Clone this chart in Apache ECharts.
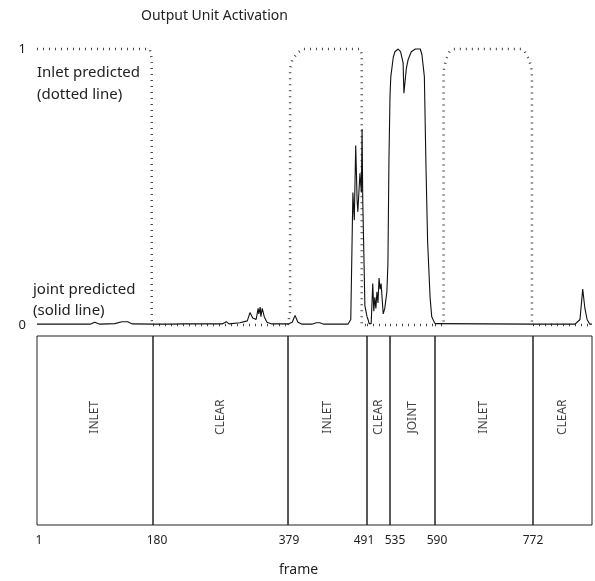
<!DOCTYPE html>
<html>
<head>
<meta charset="utf-8">
<script src="https://cdn.jsdelivr.net/npm/echarts@6/dist/echarts.min.js"></script>
<style>
  html, body { margin: 0; padding: 0; background: #fff; }
  #chart { width: 595px; height: 581px; }
</style>
</head>
<body>
<div id="chart"></div>
<script>
// segments of the sequence (frame ranges) and their labels
const segStarts = [1, 180, 379, 491, 535, 590, 772];
const segEnds = [180, 379, 491, 535, 590, 772, 880];
const segNames = ['INLET', 'CLEAR', 'INLET', 'CLEAR', 'JOINT', 'INLET', 'CLEAR'];
const tickLabels = ['1', '180', '379', '491', '535', '590', '772'];
const yTicks = ['0', '1'];

// inlet unit (dotted line)
const inletFrames = [1, 175, 177, 178, 178, 179, 180,
    379, 382, 382, 385, 392, 400, 482, 483.5, 483.5, 491,
    535, 590, 606, 606, 610, 617, 625, 750, 757, 765, 769, 770, 770, 772, 880];
const inletValues = [1, 1, 0.98, 0.95, 0.02, 0, 0,
    0, 0.05, 0.93, 0.96, 0.985, 1, 1, 0.98, 0, 0,
    0, 0, 0, 0.92, 0.96, 0.99, 1, 1, 0.99, 0.96, 0.93, 0.9, 0, 0, 0];

// joint unit (solid line)
const jointFrames = [1, 83, 90, 98, 121, 132, 141, 148, 180,
    205, 227, 282, 288, 292, 308, 319, 323, 327, 332, 335, 336, 338, 339, 341, 344, 348, 355, 379,
    385, 389, 393, 399, 413, 419, 424, 430, 464, 468, 471, 473, 475, 477, 478, 481, 483, 484, 485, 487, 488, 491,
    493, 495, 499, 502, 504, 506, 508, 510, 512, 514, 516, 518, 522, 525, 529, 531, 533, 535,
    536, 539, 541, 545, 548, 551, 552, 555, 557, 561, 566, 572, 574, 577, 579, 581, 584, 586, 590,
    772, 849, 858, 863, 867, 871, 876, 880];
const jointValues = [0.003, 0.003, 0.01, 0.003, 0.005, 0.012, 0.012, 0.004, 0.003,
    0.003, 0.004, 0.004, 0.012, 0.004, 0.008, 0.015, 0.045, 0.025, 0.02, 0.06, 0.04, 0.065, 0.03, 0.06, 0.03, 0.01, 0.004, 0.004,
    0.01, 0.035, 0.01, 0.003, 0.003, 0.008, 0.008, 0.003, 0.003, 0.02, 0.48, 0.38, 0.65, 0.45, 0.41, 0.55, 0.48, 0.71, 0.45, 0.2, 0.07, 0.03,
    0.02, 0.005, 0.005, 0.15, 0.05, 0.1, 0.06, 0.12, 0.08, 0.17, 0.13, 0.15, 0.04, 0.06, 0.12, 0.22, 0.6, 0.83,
    0.9, 0.97, 0.99, 1, 0.99, 0.95, 0.84, 0.93, 0.96, 0.99, 1, 1, 0.98, 0.9, 0.57, 0.3, 0.1, 0.03, 0.005,
    0.003, 0.003, 0.02, 0.13, 0.06, 0.02, 0.003, 0.003];

// layout: pixel edges of the segments (drawing was not to scale)
const edgePx = [37, 153, 288, 367, 390, 435, 533, 592];
const labelShift = [2, 4, 1, -3, 5, 2, 0];
const TOP = 49, TOP_H = 276, BOX_TOP = 336, BOX_H = 189;
const FONT = 'Noto Sans';

function pick(frames, values, lo, hi) {
    const out = [];
    frames.forEach((f, k) => {
        if (f >= lo && f <= hi) out.push([f, values[k]]);
    });
    return out;
}

const grid = [], xAxis = [], yAxis = [], series = [];
const n = segStarts.length;

for (let i = 0; i < n; i++) {
    const left = edgePx[i], width = edgePx[i + 1] - edgePx[i];
    // upper panel: activations
    grid.push({left: left, top: TOP, width: width, height: TOP_H});
    xAxis.push({type: 'value', gridIndex: i, min: segStarts[i], max: segEnds[i], show: false});
    yAxis.push({
        type: 'value', gridIndex: i, min: 0, max: 1, interval: 1,
        show: i === 0,
        axisLine: {show: false}, axisTick: {show: false}, splitLine: {show: false},
        axisLabel: {
            margin: 11, color: '#222', fontSize: 13, fontFamily: FONT,
            formatter: v => yTicks[v]
        }
    });
    series.push({
        type: 'line', xAxisIndex: i, yAxisIndex: i, symbol: 'none', clip: false,
        data: pick(inletFrames, inletValues, segStarts[i], segEnds[i]),
        lineStyle: {color: '#444', width: 2.5, type: [1, 5], cap: 'butt'}
    });
    series.push({
        type: 'line', xAxisIndex: i, yAxisIndex: i, symbol: 'none', clip: false,
        data: pick(jointFrames, jointValues, segStarts[i], segEnds[i]),
        lineStyle: {color: '#111', width: 1.1}
    });
}

for (let i = 0; i < n; i++) {
    const g = n + i;
    const left = edgePx[i], width = edgePx[i + 1] - edgePx[i];
    const s = labelShift[i];
    // lower panel: labelled segments
    grid.push({left: left, top: BOX_TOP, width: width, height: BOX_H,
        show: true, borderColor: '#222', borderWidth: 1, backgroundColor: 'transparent'});
    xAxis.push({
        type: 'value', gridIndex: g, min: segStarts[i], max: segEnds[i],
        axisLine: {show: false}, axisTick: {show: false}, splitLine: {show: false},
        axisLabel: {
            customValues: [segStarts[i]], margin: 10, color: '#222', fontSize: 12, fontFamily: FONT,
            padding: [0, Math.max(0, -2 * s), 0, Math.max(0, 2 * s)],
            formatter: () => tickLabels[i]
        }
    });
    yAxis.push({type: 'value', gridIndex: g, min: 0, max: 1, show: false});
    series.push({
        type: 'scatter', xAxisIndex: g, yAxisIndex: g, symbolSize: 0, silent: true,
        data: [[(segStarts[i] + segEnds[i]) / 2, 0.57]],
        label: {
            show: true, position: 'inside', rotate: 90, formatter: segNames[i],
            color: '#111', fontSize: 12, fontFamily: FONT
        }
    });
}

const chart = echarts.init(document.getElementById('chart'));
chart.setOption({
    animation: false,
    title: [
        {text: 'Output Unit Activation', left: 136, top: 4,
            textStyle: {fontSize: 14, fontWeight: 'normal', color: '#222', fontFamily: FONT}},
        {text: 'frame', left: 274, top: 558,
            textStyle: {fontSize: 14, fontWeight: 'normal', color: '#222', fontFamily: FONT}}
    ],
    graphic: [
        {type: 'text', left: 37, top: 62,
            style: {text: 'Inlet predicted\n(dotted line)', fontSize: 15, lineHeight: 22, fill: '#222', fontFamily: FONT}},
        {type: 'text', left: 33, top: 279,
            style: {text: 'joint predicted\n(solid line)', fontSize: 15, lineHeight: 21, fill: '#222', fontFamily: FONT}}
    ],
    grid: grid,
    xAxis: xAxis,
    yAxis: yAxis,
    series: series
});
</script>
</body>
</html>
